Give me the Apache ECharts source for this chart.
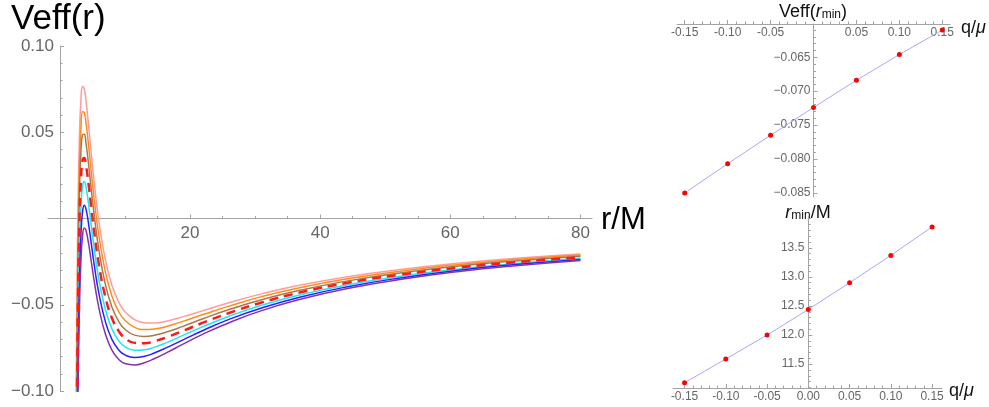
<!DOCTYPE html>
<html>
<head>
<meta charset="utf-8">
<script src="https://cdn.jsdelivr.net/npm/echarts@6.0.0/dist/echarts.min.js"></script>
<style>
html, body { margin: 0; padding: 0; background: #fff; }
#chart { width: 989px; height: 407px; }
</style>
</head>
<body>
<div id="chart"></div>
<script>
// ---- main plot: Veff(r) for several q/mu ----
var rValues = [2.45, 2.55, 2.65, 2.8, 3.0, 3.25, 3.5, 3.75, 4.0, 4.4, 4.8, 5.3, 6, 7, 8, 9, 10, 11.5, 13, 14.5, 16.5, 19, 22, 26, 31, 37, 44, 52, 61, 70, 80];

var veffQp015 = [-0.1389, -0.0820, -0.0384, 0.0085, 0.0466, 0.0696, 0.0767, 0.0751, 0.0688, 0.0544, 0.0386, 0.0201, -0.0016, -0.0240, -0.0387, -0.0481, -0.0540, -0.0587, -0.0605, -0.0606, -0.0594, -0.0569, -0.0534, -0.0488, -0.0437, -0.0386, -0.0339, -0.0297, -0.0260, -0.0231, -0.0206];
var veffQp010 = [-0.1619, -0.1038, -0.0591, -0.0109, 0.0288, 0.0534, 0.0619, 0.0614, 0.0560, 0.0429, 0.0281, 0.0106, -0.0099, -0.0311, -0.0449, -0.0537, -0.0590, -0.0631, -0.0644, -0.0641, -0.0625, -0.0595, -0.0557, -0.0508, -0.0453, -0.0400, -0.0351, -0.0307, -0.0268, -0.0238, -0.0212];
var veffQp005 = [-0.1804, -0.1217, -0.0763, -0.0272, 0.0134, 0.0391, 0.0485, 0.0488, 0.0442, 0.0319, 0.0180, 0.0014, -0.0182, -0.0383, -0.0513, -0.0594, -0.0642, -0.0676, -0.0684, -0.0677, -0.0657, -0.0624, -0.0581, -0.0528, -0.0471, -0.0415, -0.0363, -0.0317, -0.0277, -0.0246, -0.0219];
var veffQ000 = [-0.2018, -0.1422, -0.0961, -0.0459, -0.0039, 0.0232, 0.0338, 0.0351, 0.0313, 0.0203, 0.0073, -0.0083, -0.0267, -0.0456, -0.0577, -0.0650, -0.0693, -0.0721, -0.0723, -0.0712, -0.0687, -0.0650, -0.0604, -0.0548, -0.0487, -0.0428, -0.0374, -0.0327, -0.0286, -0.0253, -0.0225];
var veffQm005 = [-0.2224, -0.1620, -0.1152, -0.0640, -0.0208, 0.0075, 0.0192, 0.0215, 0.0186, 0.0087, -0.0032, -0.0179, -0.0352, -0.0528, -0.0640, -0.0706, -0.0743, -0.0764, -0.0761, -0.0747, -0.0718, -0.0676, -0.0627, -0.0567, -0.0503, -0.0442, -0.0386, -0.0336, -0.0294, -0.0261, -0.0231];
var veffQm010 = [-0.2457, -0.1841, -0.1362, -0.0836, -0.0389, -0.0088, 0.0042, 0.0077, 0.0057, -0.0028, -0.0137, -0.0273, -0.0434, -0.0598, -0.0701, -0.0760, -0.0791, -0.0806, -0.0799, -0.0780, -0.0747, -0.0702, -0.0649, -0.0585, -0.0519, -0.0455, -0.0397, -0.0346, -0.0301, -0.0267, -0.0237];
var veffQm015 = [-0.2640, -0.2020, -0.1536, -0.1004, -0.0548, -0.0238, -0.0098, -0.0055, -0.0067, -0.0142, -0.0242, -0.0367, -0.0518, -0.0670, -0.0763, -0.0815, -0.0841, -0.0849, -0.0836, -0.0813, -0.0776, -0.0727, -0.0670, -0.0604, -0.0534, -0.0468, -0.0407, -0.0355, -0.0309, -0.0274, -0.0243];

// ---- right plots: minimum of Veff and its position vs q/mu ----
var qValues = [-0.15, -0.10, -0.05, 0, 0.05, 0.10, 0.15];
var veffAtRmin = [-0.0850, -0.0807, -0.0765, -0.0724, -0.0684, -0.0646, -0.0610];
var rMinValues = [11.18, 11.59, 12.00, 12.44, 12.90, 13.37, 13.86];

// tick labels
var mainXTicks = [20, 40, 60, 80];
var mainYTicks = [-0.10, -0.05, 0.05, 0.10];
var qTicksTop = [-0.15, -0.10, -0.05, 0.05, 0.10, 0.15];
var qTicksBottom = [-0.15, -0.10, -0.05, 0, 0.05, 0.10, 0.15];
var veffMinTicks = [-0.085, -0.080, -0.075, -0.070, -0.065];
var rMinTicks = [11.5, 12.0, 12.5, 13.0, 13.5];

// axis ranges
var mainX = [-1.82, 81.77], mainY = [-0.10, 0.10];
var topX = [-0.159, 0.159], topY = [-0.0856, -0.0601];
var botX = [-0.164, 0.162], botY = [11.09, 14.03];

function steps(from, to, step) {
  var out = [];
  for (var v = from; v <= to + step / 2; v += step) out.push(+v.toFixed(5));
  return out;
}
function minorOnly(list, majors) {
  return list.filter(function (v) {
    if (Math.abs(v) < 1e-9) return false;
    return !majors.some(function (m) { return Math.abs(m - v) < 1e-9; });
  });
}

var axisGray = '#a3a3a3';
var labelGray = '#666666';
var tickFont = 'Liberation Sans';

function minusSign(v, digits) {
  return (v < 0 ? '\u2212' : '') + Math.abs(v).toFixed(digits);
}
function hyphen(v, digits) {
  return (v < 0 ? '-' : '') + Math.abs(v).toFixed(digits);
}

var xAxes = [], yAxes = [];

function hiddenAxis(list, grid, range) {
  list.push({ type: 'value', gridIndex: grid, min: range[0], max: range[1], show: false });
  return list.length - 1;
}
// one axis carries line, long ticks and labels, a twin carries the short ticks
function shownAxis(list, grid, range, o) {
  var common = { type: 'value', gridIndex: grid, min: range[0], max: range[1], position: o.position, splitLine: { show: false } };
  list.push(Object.assign({}, common, {
    axisLine: { show: true, onZero: false, lineStyle: { color: axisGray, width: 1 } },
    axisTick: { show: true, inside: o.tickInside, length: 4, customValues: o.majors, lineStyle: { color: axisGray, width: 1 } },
    axisLabel: { show: true, inside: o.labelInside, margin: o.margin, customValues: o.majors, formatter: o.fmt,
      color: labelGray, fontSize: o.fontSize, fontFamily: tickFont }
  }));
  var idx = list.length - 1;
  list.push(Object.assign({}, common, {
    axisLine: { show: false, onZero: false },
    axisTick: { show: true, inside: o.tickInside, length: 2.5, customValues: o.minors, lineStyle: { color: axisGray, width: 1 } },
    axisLabel: { show: false }
  }));
  return idx;
}

var grids = [
  // main: data, x axis (bottom edge on Veff = 0), y axis (left edge on r = 0)
  { left: 48, right: 397, top: 46, bottom: 16 },
  { left: 48, right: 397, top: 46, bottom: 188.5 },
  { left: 60, right: 397, top: 46, bottom: 16 },
  // top right: data + top x axis, y axis on q = 0
  { left: 677, right: 39, top: 24, bottom: 210 },
  { left: 813.5, right: 39, top: 24, bottom: 210 },
  // bottom right: data + bottom x axis, y axis on q = 0
  { left: 673, right: 47, top: 217, bottom: 19 },
  { left: 808.3, right: 47, top: 217, bottom: 19 }
];
grids.forEach(function (g) { g.outerBoundsMode = 'none'; });

// main
var mainDataX = hiddenAxis(xAxes, 0, mainX);
var mainDataY = hiddenAxis(yAxes, 0, mainY);
shownAxis(xAxes, 1, mainX, { position: 'bottom', tickInside: true, labelInside: false, margin: 6, fontSize: 17,
  majors: mainXTicks, minors: minorOnly(steps(5, 75, 5), mainXTicks), fmt: function (v) { return String(v); } });
hiddenAxis(yAxes, 1, [0, 1]);
hiddenAxis(xAxes, 2, [0, 1]);
shownAxis(yAxes, 2, mainY, { position: 'left', tickInside: true, labelInside: false, margin: 6, fontSize: 17,
  majors: mainYTicks, minors: minorOnly(steps(-0.09, 0.09, 0.01), mainYTicks), fmt: function (v) { return minusSign(v, 2); } });

// top right
var topDataX = shownAxis(xAxes, 3, topX, { position: 'top', tickInside: false, labelInside: true, margin: 3, fontSize: 12,
  majors: qTicksTop, minors: minorOnly(steps(-0.15, 0.15, 0.01), qTicksTop), fmt: function (v) { return hyphen(v, 2); } });
var topDataY = hiddenAxis(yAxes, 3, topY);
hiddenAxis(xAxes, 4, [0, 1]);
shownAxis(yAxes, 4, topY, { position: 'left', tickInside: true, labelInside: false, margin: 3, fontSize: 12,
  majors: veffMinTicks, minors: minorOnly(steps(-0.085, -0.061, 0.001), veffMinTicks), fmt: function (v) { return minusSign(v, 3); } });

// bottom right
var botDataX = shownAxis(xAxes, 5, botX, { position: 'bottom', tickInside: true, labelInside: false, margin: 3, fontSize: 12,
  majors: qTicksBottom, minors: minorOnly(steps(-0.15, 0.15, 0.01), qTicksBottom), fmt: function (v) { return hyphen(v, 2); } });
var botDataY = hiddenAxis(yAxes, 5, botY);
hiddenAxis(xAxes, 6, [0, 1]);
shownAxis(yAxes, 6, botY, { position: 'left', tickInside: true, labelInside: false, margin: 4, fontSize: 12,
  majors: rMinTicks, minors: minorOnly(steps(11.1, 14.0, 0.1), rMinTicks), fmt: function (v) { return v.toFixed(1); } });

function pairs(xs, ys) {
  return xs.map(function (x, i) { return [x, ys[i]]; });
}

var curveDefs = [
  { name: 'q=0.15', data: veffQp015, color: '#ff9c9c', width: 1.5 },
  { name: 'q=0.10', data: veffQp010, color: '#ff8c1a', width: 1.5 },
  { name: 'q=0.05', data: veffQp005, color: '#a67a4c', width: 1.5 },
  { name: 'q=-0.05', data: veffQm005, color: '#1ee6f2', width: 1.5 },
  { name: 'q=-0.10', data: veffQm010, color: '#2323ff', width: 1.5 },
  { name: 'q=-0.15', data: veffQm015, color: '#8a2fb0', width: 1.5 },
  { name: 'q=0', data: veffQ000, color: '#ff1a1a', width: 2.5, dashed: true }
];

var series = curveDefs.map(function (c) {
  return {
    name: c.name, type: 'line', xAxisIndex: mainDataX, yAxisIndex: mainDataY,
    data: pairs(rValues, c.data),
    showSymbol: false, smooth: true, clip: true,
    lineStyle: { color: c.color, width: c.width, type: c.dashed ? [9, 6] : 'solid' }
  };
});

var pointStyle = {
  type: 'line', symbol: 'circle', symbolSize: 5, showSymbol: true, clip: false,
  lineStyle: { color: '#a8a8ff', width: 1 },
  itemStyle: { color: '#ff0000', borderWidth: 0 }
};
series.push(Object.assign({}, pointStyle, { xAxisIndex: topDataX, yAxisIndex: topDataY, data: pairs(qValues, veffAtRmin) }));
series.push(Object.assign({}, pointStyle, { xAxisIndex: botDataX, yAxisIndex: botDataY, data: pairs(qValues, rMinValues) }));

var labelFont = '"Liberation Sans", Arial, sans-serif';
var smallTitle = { fontSize: 18, fontFamily: 'Liberation Sans', fill: '#111' };
var richParts = {
  i: { fontSize: 18, fontStyle: 'italic', fontFamily: 'Liberation Sans' },
  s: { fontSize: 12, verticalAlign: 'bottom', fontFamily: 'Liberation Sans' },
  m: { fontSize: 18, fontStyle: 'italic', fontFamily: 'Liberation Sans' }
};

var option = {
  animation: false,
  backgroundColor: '#ffffff',
  grid: grids,
  xAxis: xAxes,
  yAxis: yAxes,
  graphic: [
    { type: 'text', x: 11, y: 2, style: { text: 'Veff(r)', font: '35px ' + labelFont, fill: '#000', align: 'left', verticalAlign: 'top' } },
    { type: 'text', x: 601, y: 205, style: { text: 'r/M', font: '31px ' + labelFont, fill: '#000', align: 'left', verticalAlign: 'top' } },
    { type: 'text', x: 813, y: 12, style: Object.assign({ text: 'Veff({i|r}{s|min})', align: 'center', verticalAlign: 'middle', rich: richParts }, smallTitle) },
    { type: 'text', x: 961, y: 28, style: Object.assign({ text: 'q/{m|\u03bc}', align: 'left', verticalAlign: 'middle', rich: richParts }, smallTitle) },
    { type: 'text', x: 808, y: 213, style: Object.assign({ text: '{i|r}{s|min}/M', align: 'center', verticalAlign: 'middle', rich: richParts }, smallTitle) },
    { type: 'text', x: 949, y: 391, style: Object.assign({ text: 'q/{m|\u03bc}', align: 'left', verticalAlign: 'middle', rich: richParts }, smallTitle) }
  ],
  series: series
};

var chartObj = echarts.init(document.getElementById('chart'));
chartObj.setOption(option);
window.addEventListener('resize', function () { chartObj.resize(); });
</script>
</body>
</html>
